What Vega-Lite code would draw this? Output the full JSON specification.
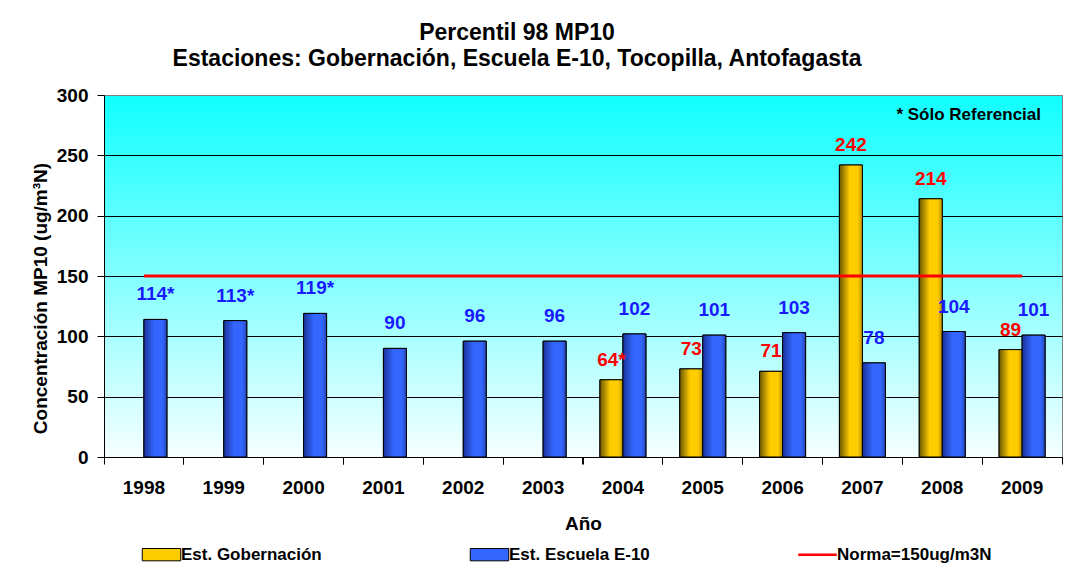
{
  "$schema": "https://vega.github.io/schema/vega-lite/v6.json",
  "width": 958,
  "height": 362,
  "autosize": {"type": "none"},
  "padding": {"left": 104, "top": 95, "right": 20, "bottom": 113},
  "background": "white",
  "title": {
    "text": ["Percentil 98 MP10", "Estaciones: Gobernación, Escuela E-10, Tocopilla, Antofagasta"],
    "anchor": "middle",
    "frame": "group",
    "dx": -66,
    "offset": 15,
    "lineHeight": 26,
    "font": "Liberation Sans",
    "fontSize": 23,
    "fontWeight": "bold",
    "color": "black"
  },
  "config": {
    "font": "Liberation Sans",
    "view": {
      "stroke": "#808080",
      "strokeWidth": 1,
      "fill": {
        "gradient": "linear",
        "x1": 0, "y1": 0, "x2": 0, "y2": 1,
        "stops": [
          {"offset": 0, "color": "#10ffff"},
          {"offset": 1, "color": "#f6ffff"}
        ]
      }
    },
    "axis": {
      "labelFont": "Liberation Sans",
      "titleFont": "Liberation Sans",
      "labelFontWeight": "bold",
      "titleFontWeight": "bold",
      "labelColor": "black",
      "titleColor": "black",
      "domainColor": "black",
      "tickColor": "black"
    }
  },
  "datasets": {
    "pm": [
      {"year": "1998", "series": "Est. Escuela E-10", "value": 114, "label": "114*"},
      {"year": "1999", "series": "Est. Escuela E-10", "value": 113, "label": "113*"},
      {"year": "2000", "series": "Est. Escuela E-10", "value": 119, "label": "119*"},
      {"year": "2001", "series": "Est. Escuela E-10", "value": 90, "label": "90"},
      {"year": "2002", "series": "Est. Escuela E-10", "value": 96, "label": "96"},
      {"year": "2003", "series": "Est. Escuela E-10", "value": 96, "label": "96"},
      {"year": "2004", "series": "Est. Gobernación", "value": 64, "label": "64*"},
      {"year": "2004", "series": "Est. Escuela E-10", "value": 102, "label": "102"},
      {"year": "2005", "series": "Est. Gobernación", "value": 73, "label": "73"},
      {"year": "2005", "series": "Est. Escuela E-10", "value": 101, "label": "101"},
      {"year": "2006", "series": "Est. Gobernación", "value": 71, "label": "71"},
      {"year": "2006", "series": "Est. Escuela E-10", "value": 103, "label": "103"},
      {"year": "2007", "series": "Est. Gobernación", "value": 242, "label": "242"},
      {"year": "2007", "series": "Est. Escuela E-10", "value": 78, "label": "78"},
      {"year": "2008", "series": "Est. Gobernación", "value": 214, "label": "214"},
      {"year": "2008", "series": "Est. Escuela E-10", "value": 104, "label": "104"},
      {"year": "2009", "series": "Est. Gobernación", "value": 89, "label": "89"},
      {"year": "2009", "series": "Est. Escuela E-10", "value": 101, "label": "101"}
    ],
    "norma": [
      {"year": "1998", "norma": 150},
      {"year": "1999", "norma": 150},
      {"year": "2000", "norma": 150},
      {"year": "2001", "norma": 150},
      {"year": "2002", "norma": 150},
      {"year": "2003", "norma": 150},
      {"year": "2004", "norma": 150},
      {"year": "2005", "norma": 150},
      {"year": "2006", "norma": 150},
      {"year": "2007", "norma": 150},
      {"year": "2008", "norma": 150},
      {"year": "2009", "norma": 150}
    ],
    "note": [
      {"year": "2009", "value": 279, "text": "* Sólo Referencial"}
    ]
  },
  "resolve": {"axis": {"x": "independent"}},
  "layer": [
    {
      "data": {"name": "pm"},
      "mark": {"type": "bar", "stroke": "black", "strokeWidth": 1},
      "encoding": {
        "x": {
          "field": "year", "type": "nominal",
          "scale": {"paddingInner": 0, "paddingOuter": 0},
          "axis": {
            "orient": "bottom",
            "title": "Año",
            "labelAngle": 0,
            "labelFontSize": 19,
            "labelPadding": 21,
            "ticks": false,
            "titleFontSize": 19,
            "titleY": 72,
            "titleBaseline": "alphabetic",
            "domainColor": "black"
          }
        },
        "xOffset": {
          "field": "series", "type": "nominal",
          "scale": {"domain": ["Est. Gobernación", "Est. Escuela E-10"], "paddingInner": 0, "paddingOuter": 0.7355}
        },
        "y": {
          "field": "value", "type": "quantitative",
          "scale": {"domain": [0, 300], "nice": false},
          "axis": {
            "title": "Concentración MP10 (ug/m³N)",
            "values": [0, 50, 100, 150, 200, 250, 300],
            "labelFontSize": 19,
            "labelPadding": 9,
            "tickSize": 7,
            "grid": true,
            "gridColor": {"condition": {"test": "datum.value === 300", "value": "#808080"}, "value": "black"},
            "gridWidth": 1,
            "gridOpacity": 1,
            "titleFontSize": 19,
            "titleX": -58,
            "titleY": 203,
            "titleAlign": "center",
            "titleBaseline": "alphabetic",
            "titleAngle": -90
          }
        },
        "color": {
          "field": "series", "type": "nominal",
          "scale": {
            "domain": ["Est. Gobernación", "Est. Escuela E-10", "Norma=150ug/m3N"],
            "range": ["#ffcc00", "#3366ff", "#ff0000"]
          },
          "legend": {
            "title": null,
            "orient": "none",
            "legendX": 49,
            "legendY": 451,
            "direction": "horizontal",
            "columns": 3,
            "gridAlign": "all",
            "columnPadding": 132,
            "labelFont": "Liberation Sans",
            "labelFontSize": 17,
            "labelFontWeight": "bold",
            "labelColor": "black",
            "labelOffset": 11,
            "labelLimit": 300,
            "symbolType": "M-1,-0.32H1V0.32H-1Z",
            "symbolSize": 1480,
            "symbolStrokeColor": "black",
            "symbolStrokeWidth": 1,
            "symbolOpacity": 1,
            "encode": {
              "symbols": {
                "update": {
                  "shape": {"signal": "datum.value === 'Norma=150ug/m3N' ? 'M-1,-0.07H1V0.07H-1Z' : 'M-1,-0.32H1V0.32H-1Z'"},
                  "strokeWidth": {"signal": "datum.value === 'Norma=150ug/m3N' ? 0 : 1"},
                  "stroke": {"value": "black"},
                  "fill": {"signal": "datum.value === 'Est. Gobernación' ? {gradient: 'linear', x1: 0, y1: 0, x2: 1, y2: 0, stops: [{offset: 0, color: '#6b5800'}, {offset: 0.45, color: '#ffcc00'}, {offset: 0.8, color: '#ffcc00'}, {offset: 1, color: '#b89200'}]} : datum.value === 'Est. Escuela E-10' ? {gradient: 'linear', x1: 0, y1: 0, x2: 1, y2: 0, stops: [{offset: 0, color: '#1a3399'}, {offset: 0.45, color: '#3366ff'}, {offset: 0.8, color: '#3366ff'}, {offset: 1, color: '#2447b3'}]} : '#ff0000'"}
                }
              }
            }
          }
        }
      }
    },
    {
      "data": {"name": "pm"},
      "transform": [{"filter": "datum.series === 'Est. Gobernación'"}],
      "mark": {
        "type": "bar", "stroke": "black", "strokeWidth": 1,
        "color": {
          "gradient": "linear", "x1": 0, "y1": 0, "x2": 1, "y2": 0,
          "stops": [
            {"offset": 0, "color": "#6b5800"},
            {"offset": 0.45, "color": "#ffcc00"},
            {"offset": 0.8, "color": "#ffcc00"},
            {"offset": 1, "color": "#b89200"}
          ]
        }
      },
      "encoding": {
        "x": {
          "field": "year", "type": "nominal",
          "axis": {"orient": "bottom", "title": null, "labels": false, "domain": false, "ticks": true, "tickSize": 7, "bandPosition": 0}
        },
        "xOffset": {"field": "series", "type": "nominal"},
        "y": {"field": "value", "type": "quantitative"}
      }
    },
    {
      "data": {"name": "pm"},
      "transform": [{"filter": "datum.series === 'Est. Escuela E-10'"}],
      "mark": {
        "type": "bar", "stroke": "black", "strokeWidth": 1,
        "color": {
          "gradient": "linear", "x1": 0, "y1": 0, "x2": 1, "y2": 0,
          "stops": [
            {"offset": 0, "color": "#1a3399"},
            {"offset": 0.45, "color": "#3366ff"},
            {"offset": 0.8, "color": "#3366ff"},
            {"offset": 1, "color": "#2447b3"}
          ]
        }
      },
      "encoding": {
        "x": {
          "field": "year", "type": "nominal",
          "axis": {"orient": "bottom", "title": null, "labels": false, "domain": false, "ticks": true, "tickSize": 7, "bandPosition": 1}
        },
        "xOffset": {"field": "series", "type": "nominal"},
        "y": {"field": "value", "type": "quantitative"}
      }
    },
    {
      "data": {"name": "norma"},
      "mark": {"type": "line", "color": "#ff0000", "strokeWidth": 3},
      "encoding": {
        "x": {"field": "year", "type": "nominal", "axis": null},
        "y": {"field": "norma", "type": "quantitative"}
      }
    },
    {
      "data": {"name": "pm"},
      "transform": [{"filter": "datum.series === 'Est. Gobernación'"}],
      "mark": {"type": "text", "font": "Liberation Sans", "fontSize": 19, "fontWeight": "bold", "color": "#ff0000", "baseline": "alphabetic", "dy": -14},
      "encoding": {
        "x": {"field": "year", "type": "nominal", "axis": null},
        "xOffset": {"field": "series", "type": "nominal"},
        "y": {"field": "value", "type": "quantitative"},
        "text": {"field": "label"}
      }
    },
    {
      "data": {"name": "pm"},
      "transform": [{"filter": "datum.series === 'Est. Escuela E-10'"}],
      "mark": {"type": "text", "font": "Liberation Sans", "fontSize": 19, "fontWeight": "bold", "color": "#1a1aff", "baseline": "alphabetic", "dy": -19},
      "encoding": {
        "x": {"field": "year", "type": "nominal", "axis": null},
        "xOffset": {"field": "series", "type": "nominal"},
        "y": {"field": "value", "type": "quantitative"},
        "text": {"field": "label"}
      }
    },
    {
      "data": {"name": "note"},
      "mark": {"type": "text", "font": "Liberation Sans", "fontSize": 17, "fontWeight": "bold", "color": "black", "align": "right", "baseline": "alphabetic", "dx": -21},
      "encoding": {
        "x": {"field": "year", "type": "nominal", "bandPosition": 1, "axis": null},
        "y": {"field": "value", "type": "quantitative"},
        "text": {"field": "text"}
      }
    }
  ]
}
